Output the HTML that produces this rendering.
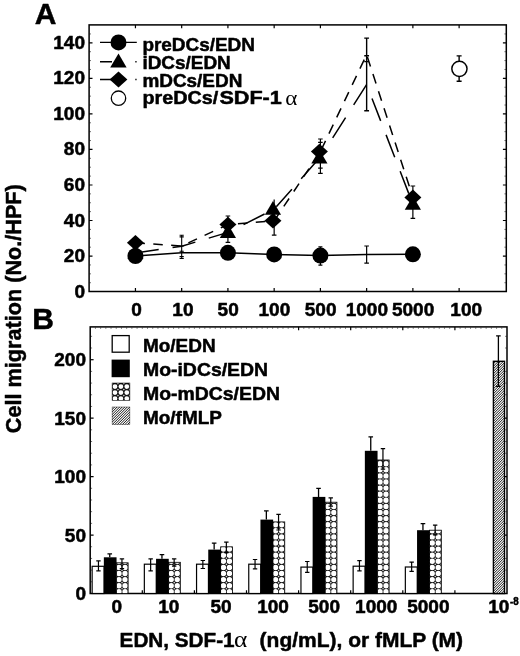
<!DOCTYPE html>
<html><head><meta charset="utf-8"><title>Figure</title>
<style>html,body{margin:0;padding:0;background:#fff;}svg{display:block;}</style>
</head><body>
<svg width="520" height="656" viewBox="0 0 520 656" font-family="'Liberation Sans', sans-serif" font-weight="bold" fill="#050505">
<defs>
<filter id="soft" x="0" y="0" width="520" height="656" filterUnits="userSpaceOnUse"><feGaussianBlur stdDeviation="0.38"/></filter>
</defs>
<rect width="520" height="656" fill="#fff"/>
<g filter="url(#soft)">
<g stroke="#050505" fill="none" stroke-width="1.5">
<rect x="89.10" y="24.90" width="417.20" height="266.60"/>
<path d="M89.10 256.06 h3.4 M506.30 256.06 h-3.4" stroke-width="1.2"/>
<path d="M89.10 220.52 h3.4 M506.30 220.52 h-3.4" stroke-width="1.2"/>
<path d="M89.10 184.98 h3.4 M506.30 184.98 h-3.4" stroke-width="1.2"/>
<path d="M89.10 149.44 h3.4 M506.30 149.44 h-3.4" stroke-width="1.2"/>
<path d="M89.10 113.90 h3.4 M506.30 113.90 h-3.4" stroke-width="1.2"/>
<path d="M89.10 78.36 h3.4 M506.30 78.36 h-3.4" stroke-width="1.2"/>
<path d="M89.10 42.82 h3.4 M506.30 42.82 h-3.4" stroke-width="1.2"/>
<path d="M89.50 282.72 h1.5 M505.90 282.72 h-1.5 M89.50 273.83 h1.5 M505.90 273.83 h-1.5 M89.50 264.95 h1.5 M505.90 264.95 h-1.5 M89.50 247.18 h1.5 M505.90 247.18 h-1.5 M89.50 238.29 h1.5 M505.90 238.29 h-1.5 M89.50 229.41 h1.5 M505.90 229.41 h-1.5 M89.50 211.64 h1.5 M505.90 211.64 h-1.5 M89.50 202.75 h1.5 M505.90 202.75 h-1.5 M89.50 193.87 h1.5 M505.90 193.87 h-1.5 M89.50 176.10 h1.5 M505.90 176.10 h-1.5 M89.50 167.21 h1.5 M505.90 167.21 h-1.5 M89.50 158.33 h1.5 M505.90 158.33 h-1.5 M89.50 140.56 h1.5 M505.90 140.56 h-1.5 M89.50 131.67 h1.5 M505.90 131.67 h-1.5 M89.50 122.79 h1.5 M505.90 122.79 h-1.5 M89.50 105.02 h1.5 M505.90 105.02 h-1.5 M89.50 96.13 h1.5 M505.90 96.13 h-1.5 M89.50 87.25 h1.5 M505.90 87.25 h-1.5 M89.50 69.48 h1.5 M505.90 69.48 h-1.5 M89.50 60.59 h1.5 M505.90 60.59 h-1.5 M89.50 51.71 h1.5 M505.90 51.71 h-1.5 M89.50 33.94 h1.5 M505.90 33.94 h-1.5" stroke-width="0.8" opacity="0.7"/>
<path d="M135.44 291.50 v-3.4 M135.44 24.90 v3.4 M181.68 291.50 v-3.4 M181.68 24.90 v3.4 M227.92 291.50 v-3.4 M227.92 24.90 v3.4 M274.16 291.50 v-3.4 M274.16 24.90 v3.4 M320.40 291.50 v-3.4 M320.40 24.90 v3.4 M366.64 291.50 v-3.4 M366.64 24.90 v3.4 M412.88 291.50 v-3.4 M412.88 24.90 v3.4 M459.12 291.50 v-3.4 M459.12 24.90 v3.4" stroke-width="1.2"/>
</g>
<g stroke="#050505" stroke-width="0.50" stroke-linejoin="round">
<text transform="translate(85.00 298.00) scale(1.045 1)" font-size="18.20" text-anchor="end" >0</text>
<text transform="translate(85.00 262.06) scale(1.045 1)" font-size="18.20" text-anchor="end" >20</text>
<text transform="translate(85.00 226.52) scale(1.045 1)" font-size="18.20" text-anchor="end" >40</text>
<text transform="translate(85.00 190.98) scale(1.045 1)" font-size="18.20" text-anchor="end" >60</text>
<text transform="translate(85.00 155.44) scale(1.045 1)" font-size="18.20" text-anchor="end" >80</text>
<text transform="translate(85.00 119.90) scale(1.045 1)" font-size="18.20" text-anchor="end" >100</text>
<text transform="translate(85.00 84.36) scale(1.045 1)" font-size="18.20" text-anchor="end" >120</text>
<text transform="translate(85.00 48.82) scale(1.045 1)" font-size="18.20" text-anchor="end" >140</text>
<text transform="translate(136.64 316.40) scale(1.045 1)" font-size="18.20" text-anchor="middle" >0</text>
<text transform="translate(182.88 316.40) scale(1.045 1)" font-size="18.20" text-anchor="middle" >10</text>
<text transform="translate(228.12 316.40) scale(1.045 1)" font-size="18.20" text-anchor="middle" >50</text>
<text transform="translate(274.36 316.40) scale(1.045 1)" font-size="18.20" text-anchor="middle" >100</text>
<text transform="translate(320.60 316.40) scale(1.045 1)" font-size="18.20" text-anchor="middle" >500</text>
<text transform="translate(366.84 316.40) scale(1.045 1)" font-size="18.20" text-anchor="middle" >1000</text>
<text transform="translate(413.08 316.40) scale(1.045 1)" font-size="18.20" text-anchor="middle" >5000</text>
<text transform="translate(466.20 316.40) scale(1.045 1)" font-size="18.20" text-anchor="middle" >100</text>
</g>
<g stroke="#050505" fill="none" stroke-width="1.5" stroke-linejoin="miter">
<polyline points="135.44,256.00 181.68,252.70 227.92,252.80 274.16,254.40 320.40,255.60 366.64,254.40 412.88,254.30"/>
<polyline points="135.44,253.00 181.68,246.20 227.92,232.40 274.16,209.20 320.40,157.00" stroke-dasharray="23.5 14"/>
<polyline points="320.40,157.00 366.64,84.60 412.88,204.20" stroke-dasharray="24 15" stroke-dashoffset="16.2"/>
<polyline points="135.44,242.80 181.68,246.00 227.92,224.50 274.16,220.80 320.40,151.60" stroke-dasharray="9.5 8.4"/>
<polyline points="320.40,151.60 366.64,54.60 412.88,197.40" stroke-dasharray="10 8" stroke-dashoffset="16.1"/>
</g>
<path d="M181.68 235.20 V258.50 M179.58 235.20 h4.20 M179.58 236.90 h4.20 M179.58 246.00 h4.20 M179.58 251.20 h4.20 M179.58 256.60 h4.20 M179.58 258.50 h4.20" stroke="#050505" stroke-width="1.10" fill="none"/>
<path d="M227.92 216.00 V242.40 M225.62 216.00 h4.60 M225.62 242.40 h4.60" stroke="#050505" stroke-width="1.20" fill="none"/>
<path d="M274.16 199.50 V235.20 M271.86 235.20 h4.60" stroke="#050505" stroke-width="1.20" fill="none"/>
<path d="M320.40 139.00 V173.40 M318.10 139.00 h4.60 M318.10 142.30 h4.60 M318.10 168.20 h4.60 M318.10 173.40 h4.60" stroke="#050505" stroke-width="1.20" fill="none"/>
<path d="M320.40 246.90 V265.20 M318.40 246.90 h4.00 M318.40 265.20 h4.00" stroke="#050505" stroke-width="1.20" fill="none"/>
<path d="M366.64 38.10 V110.80 M364.24 38.10 h4.80 M364.24 55.80 h4.80 M364.24 61.60 h4.80 M364.24 110.80 h4.80" stroke="#050505" stroke-width="1.40" fill="none"/>
<path d="M366.64 246.00 V263.10 M364.34 246.00 h4.60 M364.34 263.10 h4.60" stroke="#050505" stroke-width="1.20" fill="none"/>
<path d="M412.88 186.00 V218.40 M410.58 186.00 h4.60 M410.58 218.40 h4.60" stroke="#050505" stroke-width="1.20" fill="none"/>
<path d="M459.12 55.90 V81.30 M456.62 55.90 h5.00 M456.62 81.30 h5.00" stroke="#050505" stroke-width="1.40" fill="none"/>
<path d="M135.44 244.70 L143.54 258.60 L127.34 258.60 Z"/>
<path d="M135.44 235.00 L143.94 242.80 L135.44 250.60 L126.94 242.80 Z"/>
<circle cx="135.44" cy="256.00" r="8.00"/>
<path d="M227.92 224.10 L236.02 238.00 L219.82 238.00 Z"/>
<path d="M227.92 216.70 L236.42 224.50 L227.92 232.30 L219.42 224.50 Z"/>
<circle cx="227.92" cy="252.80" r="8.00"/>
<path d="M272.96 200.90 L281.06 214.80 L264.86 214.80 Z"/>
<path d="M272.96 213.00 L281.46 220.80 L272.96 228.60 L264.46 220.80 Z"/>
<circle cx="274.16" cy="254.40" r="8.00"/>
<path d="M319.40 149.70 L327.50 163.60 L311.30 163.60 Z"/>
<path d="M319.40 143.80 L327.90 151.60 L319.40 159.40 L310.90 151.60 Z"/>
<circle cx="320.40" cy="255.60" r="8.00"/>
<path d="M412.88 195.90 L420.98 209.80 L404.78 209.80 Z"/>
<path d="M412.88 189.60 L421.38 197.40 L412.88 205.20 L404.38 197.40 Z"/>
<circle cx="412.88" cy="254.30" r="8.00"/>
<circle cx="459.42" cy="68.8" r="7.6" fill="#fff" stroke="#050505" stroke-width="1.5"/>
<g stroke="#050505" stroke-width="1.4" fill="none">
<path d="M100 42.4 H136.8"/>
<path d="M100 61.7 H112 M135.3 61.7 h1.3"/>
<path d="M100 79.5 H112 M135.3 79.5 h1.3"/>
</g>
<circle cx="118.50" cy="42.40" r="8.00"/>
<path d="M118.50 53.4 L126.6 67.5 L110.2 67.5 Z"/>
<path d="M118.50 71.40 L127.40 79.40 L118.50 87.40 L109.60 79.40 Z"/>
<circle cx="118.50" cy="98.2" r="7.2" fill="#fff" stroke="#050505" stroke-width="1.3"/>
<g stroke="#050505" stroke-width="0.50" stroke-linejoin="round">
<text transform="translate(142.40 51.00) scale(1.030 1)" font-size="18.40" text-anchor="start" >preDCs/EDN</text>
<text transform="translate(142.40 68.90) scale(1.030 1)" font-size="18.40" text-anchor="start" >iDCs/EDN</text>
<text transform="translate(142.40 86.60) scale(1.030 1)" font-size="18.40" text-anchor="start" >mDCs/EDN</text>
<text transform="translate(142.40 104.30) scale(1.075 1)" font-size="18.40" text-anchor="start" >preDCs/</text>
<text transform="translate(219.40 104.30) scale(1.175 1)" font-size="18.40" text-anchor="start" >SDF-1</text>
<text transform="translate(285.2 105.2) scale(1.13 1)" font-family="'Liberation Serif', serif" font-size="20.5" font-weight="normal" stroke="none">α</text>
<text transform="translate(34.80 23.70) scale(1.000 1)" font-size="30.00" text-anchor="start" >A</text>
<text transform="translate(32.30 329.40) scale(1.000 1)" font-size="30.00" text-anchor="start" >B</text>
</g>
<text transform="translate(20.7 433.2) rotate(-90)" font-size="22.2" textLength="249" lengthAdjust="spacingAndGlyphs" stroke="#050505" stroke-width="0.50" stroke-linejoin="round">Cell migration (No./HPF)</text>
<g stroke="#050505" fill="none" stroke-width="1.5">
<rect x="90.20" y="326.90" width="416.80" height="266.60"/>
<path d="M90.20 535.05 h3.4 M507.00 535.05 h-3.4" stroke-width="1.2"/>
<path d="M90.20 476.60 h3.4 M507.00 476.60 h-3.4" stroke-width="1.2"/>
<path d="M90.20 418.15 h3.4 M507.00 418.15 h-3.4" stroke-width="1.2"/>
<path d="M90.20 359.70 h3.4" stroke-width="1.2"/>
<path d="M90.60 581.81 h1.5 M506.60 581.81 h-1.5 M90.60 570.12 h1.5 M506.60 570.12 h-1.5 M90.60 558.43 h1.5 M506.60 558.43 h-1.5 M90.60 546.74 h1.5 M506.60 546.74 h-1.5 M90.60 523.36 h1.5 M506.60 523.36 h-1.5 M90.60 511.67 h1.5 M506.60 511.67 h-1.5 M90.60 499.98 h1.5 M506.60 499.98 h-1.5 M90.60 488.29 h1.5 M506.60 488.29 h-1.5 M90.60 464.91 h1.5 M506.60 464.91 h-1.5 M90.60 453.22 h1.5 M506.60 453.22 h-1.5 M90.60 441.53 h1.5 M506.60 441.53 h-1.5 M90.60 429.84 h1.5 M506.60 429.84 h-1.5 M90.60 406.46 h1.5 M506.60 406.46 h-1.5 M90.60 394.77 h1.5 M506.60 394.77 h-1.5 M90.60 383.08 h1.5 M506.60 383.08 h-1.5 M90.60 371.39 h1.5 M506.60 371.39 h-1.5 M90.60 348.01 h1.5 M506.60 348.01 h-1.5 M90.60 336.32 h1.5 M506.60 336.32 h-1.5" stroke-width="0.8" opacity="0.7"/>
<path d="M142.30 593.50 v-3.2 M194.40 593.50 v-3.2 M246.50 593.50 v-3.2 M298.60 593.50 v-3.2 M298.60 326.90 v3.4 M350.70 593.50 v-3.2 M350.70 326.90 v3.4 M402.80 593.50 v-3.2 M402.80 326.90 v3.4 M454.90 593.50 v-3.2 M454.90 326.90 v3.4" stroke-width="1.2"/>
<path d="M95.41 327.40 v1.6 M100.62 327.40 v1.6 M105.83 327.40 v1.6 M111.04 327.40 v1.6 M116.25 327.40 v1.6 M121.46 327.40 v1.6 M126.67 327.40 v1.6 M131.88 327.40 v1.6 M137.09 327.40 v1.6 M142.30 327.40 v1.6 M147.51 327.40 v1.6 M152.72 327.40 v1.6 M157.93 327.40 v1.6 M163.14 327.40 v1.6 M168.35 327.40 v1.6 M173.56 327.40 v1.6 M178.77 327.40 v1.6 M183.98 327.40 v1.6 M189.19 327.40 v1.6 M194.40 327.40 v1.6 M199.61 327.40 v1.6 M204.82 327.40 v1.6 M210.03 327.40 v1.6 M215.24 327.40 v1.6 M220.45 327.40 v1.6 M225.66 327.40 v1.6 M230.87 327.40 v1.6 M236.08 327.40 v1.6 M241.29 327.40 v1.6 M246.50 327.40 v1.6 M251.71 327.40 v1.6 M256.92 327.40 v1.6 M262.13 327.40 v1.6 M267.34 327.40 v1.6 M272.55 327.40 v1.6 M277.76 327.40 v1.6 M282.97 327.40 v1.6 M288.18 327.40 v1.6 M293.39 327.40 v1.6 M303.81 327.40 v1.6 M309.02 327.40 v1.6 M314.23 327.40 v1.6 M319.44 327.40 v1.6 M324.65 327.40 v1.6 M329.86 327.40 v1.6 M335.07 327.40 v1.6 M340.28 327.40 v1.6 M345.49 327.40 v1.6 M355.91 327.40 v1.6 M361.12 327.40 v1.6 M366.33 327.40 v1.6 M371.54 327.40 v1.6 M376.75 327.40 v1.6 M381.96 327.40 v1.6 M387.17 327.40 v1.6 M392.38 327.40 v1.6 M397.59 327.40 v1.6 M408.01 327.40 v1.6 M413.22 327.40 v1.6 M418.43 327.40 v1.6 M423.64 327.40 v1.6 M428.85 327.40 v1.6 M434.06 327.40 v1.6 M439.27 327.40 v1.6 M444.48 327.40 v1.6 M449.69 327.40 v1.6 M460.11 327.40 v1.6 M465.32 327.40 v1.6 M470.53 327.40 v1.6 M475.74 327.40 v1.6 M480.95 327.40 v1.6 M486.16 327.40 v1.6 M491.37 327.40 v1.6 M496.58 327.40 v1.6 M501.79 327.40 v1.6" stroke="#050505" stroke-width="1.0" opacity="0.45"/>
</g>
<g stroke="#050505" stroke-width="0.50" stroke-linejoin="round">
<text transform="translate(86.00 599.80) scale(1.045 1)" font-size="18.20" text-anchor="end" >0</text>
<text transform="translate(86.00 541.55) scale(1.045 1)" font-size="18.20" text-anchor="end" >50</text>
<text transform="translate(86.00 483.10) scale(1.045 1)" font-size="18.20" text-anchor="end" >100</text>
<text transform="translate(86.00 424.65) scale(1.045 1)" font-size="18.20" text-anchor="end" >150</text>
<text transform="translate(86.00 366.20) scale(1.045 1)" font-size="18.20" text-anchor="end" >200</text>
<text transform="translate(116.75 612.90) scale(1.045 1)" font-size="18.20" text-anchor="middle" >0</text>
<text transform="translate(168.85 612.90) scale(1.045 1)" font-size="18.20" text-anchor="middle" >10</text>
<text transform="translate(220.95 612.90) scale(1.045 1)" font-size="18.20" text-anchor="middle" >50</text>
<text transform="translate(273.05 612.90) scale(1.045 1)" font-size="18.20" text-anchor="middle" >100</text>
<text transform="translate(324.15 612.90) scale(1.045 1)" font-size="18.20" text-anchor="middle" >500</text>
<text transform="translate(376.25 612.90) scale(1.045 1)" font-size="18.20" text-anchor="middle" >1000</text>
<text transform="translate(428.35 612.90) scale(1.045 1)" font-size="18.20" text-anchor="middle" >5000</text>
<text transform="translate(488.30 612.90) scale(1.045 1)" font-size="18.20" text-anchor="start" >10</text>
<text transform="translate(509.90 605.00) scale(0.900 1)" font-size="10.80" text-anchor="start" >-8</text>
</g>
<rect x="92.15" y="566.30" width="11.90" height="27.20" fill="#fff" stroke="#050505" stroke-width="1.2"/>
<clipPath id="cb0"><rect x="116.25" y="562.80" width="11.90" height="30.70"/></clipPath>
<g clip-path="url(#cb0)"><rect x="116.25" y="562.80" width="11.90" height="30.70" fill="#141414"/><path d="M110.25 591.80a2.70 2.70 0 1 0 5.40 0a2.70 2.70 0 1 0 -5.40 0zM116.30 591.80a2.70 2.70 0 1 0 5.40 0a2.70 2.70 0 1 0 -5.40 0zM122.35 591.80a2.70 2.70 0 1 0 5.40 0a2.70 2.70 0 1 0 -5.40 0zM110.25 585.70a2.70 2.70 0 1 0 5.40 0a2.70 2.70 0 1 0 -5.40 0zM116.30 585.70a2.70 2.70 0 1 0 5.40 0a2.70 2.70 0 1 0 -5.40 0zM122.35 585.70a2.70 2.70 0 1 0 5.40 0a2.70 2.70 0 1 0 -5.40 0zM110.25 579.60a2.70 2.70 0 1 0 5.40 0a2.70 2.70 0 1 0 -5.40 0zM116.30 579.60a2.70 2.70 0 1 0 5.40 0a2.70 2.70 0 1 0 -5.40 0zM122.35 579.60a2.70 2.70 0 1 0 5.40 0a2.70 2.70 0 1 0 -5.40 0zM110.25 573.50a2.70 2.70 0 1 0 5.40 0a2.70 2.70 0 1 0 -5.40 0zM116.30 573.50a2.70 2.70 0 1 0 5.40 0a2.70 2.70 0 1 0 -5.40 0zM122.35 573.50a2.70 2.70 0 1 0 5.40 0a2.70 2.70 0 1 0 -5.40 0zM110.25 567.40a2.70 2.70 0 1 0 5.40 0a2.70 2.70 0 1 0 -5.40 0zM116.30 567.40a2.70 2.70 0 1 0 5.40 0a2.70 2.70 0 1 0 -5.40 0zM122.35 567.40a2.70 2.70 0 1 0 5.40 0a2.70 2.70 0 1 0 -5.40 0zM110.25 561.30a2.70 2.70 0 1 0 5.40 0a2.70 2.70 0 1 0 -5.40 0zM116.30 561.30a2.70 2.70 0 1 0 5.40 0a2.70 2.70 0 1 0 -5.40 0zM122.35 561.30a2.70 2.70 0 1 0 5.40 0a2.70 2.70 0 1 0 -5.40 0z" fill="#fff"/><path d="M115.17 588.75a0.8 0.8 0 1 0 1.6 0a0.8 0.8 0 1 0 -1.6 0zM121.23 588.75a0.8 0.8 0 1 0 1.6 0a0.8 0.8 0 1 0 -1.6 0zM127.27 588.75a0.8 0.8 0 1 0 1.6 0a0.8 0.8 0 1 0 -1.6 0zM115.17 582.65a0.8 0.8 0 1 0 1.6 0a0.8 0.8 0 1 0 -1.6 0zM121.23 582.65a0.8 0.8 0 1 0 1.6 0a0.8 0.8 0 1 0 -1.6 0zM127.27 582.65a0.8 0.8 0 1 0 1.6 0a0.8 0.8 0 1 0 -1.6 0zM115.17 576.55a0.8 0.8 0 1 0 1.6 0a0.8 0.8 0 1 0 -1.6 0zM121.23 576.55a0.8 0.8 0 1 0 1.6 0a0.8 0.8 0 1 0 -1.6 0zM127.27 576.55a0.8 0.8 0 1 0 1.6 0a0.8 0.8 0 1 0 -1.6 0zM115.17 570.45a0.8 0.8 0 1 0 1.6 0a0.8 0.8 0 1 0 -1.6 0zM121.23 570.45a0.8 0.8 0 1 0 1.6 0a0.8 0.8 0 1 0 -1.6 0zM127.27 570.45a0.8 0.8 0 1 0 1.6 0a0.8 0.8 0 1 0 -1.6 0zM115.17 564.35a0.8 0.8 0 1 0 1.6 0a0.8 0.8 0 1 0 -1.6 0zM121.23 564.35a0.8 0.8 0 1 0 1.6 0a0.8 0.8 0 1 0 -1.6 0zM127.27 564.35a0.8 0.8 0 1 0 1.6 0a0.8 0.8 0 1 0 -1.6 0zM115.17 558.25a0.8 0.8 0 1 0 1.6 0a0.8 0.8 0 1 0 -1.6 0zM121.23 558.25a0.8 0.8 0 1 0 1.6 0a0.8 0.8 0 1 0 -1.6 0zM127.27 558.25a0.8 0.8 0 1 0 1.6 0a0.8 0.8 0 1 0 -1.6 0z" fill="#dcdcdc"/></g>
<rect x="116.25" y="562.80" width="11.90" height="30.70" fill="none" stroke="#050505" stroke-width="0.80"/>
<rect x="103.85" y="557.30" width="12.70" height="36.20" fill="#050505"/>
<path d="M98.45 560.90 V570.80 M96.25 560.90 h4.40 M96.25 570.80 h4.40" stroke="#050505" stroke-width="1.20" fill="none"/>
<path d="M109.75 553.80 V557.30 M107.45 553.80 h4.60" stroke="#050505" stroke-width="1.30" fill="none"/>
<path d="M121.95 558.90 V568.60 M119.75 558.90 h4.40 M119.75 568.60 h4.40" stroke="#050505" stroke-width="1.20" fill="none"/>
<rect x="144.35" y="564.20" width="11.90" height="29.30" fill="#fff" stroke="#050505" stroke-width="1.2"/>
<clipPath id="cb1"><rect x="168.45" y="562.30" width="11.90" height="31.20"/></clipPath>
<g clip-path="url(#cb1)"><rect x="168.45" y="562.30" width="11.90" height="31.20" fill="#141414"/><path d="M162.45 591.80a2.70 2.70 0 1 0 5.40 0a2.70 2.70 0 1 0 -5.40 0zM168.50 591.80a2.70 2.70 0 1 0 5.40 0a2.70 2.70 0 1 0 -5.40 0zM174.55 591.80a2.70 2.70 0 1 0 5.40 0a2.70 2.70 0 1 0 -5.40 0zM162.45 585.70a2.70 2.70 0 1 0 5.40 0a2.70 2.70 0 1 0 -5.40 0zM168.50 585.70a2.70 2.70 0 1 0 5.40 0a2.70 2.70 0 1 0 -5.40 0zM174.55 585.70a2.70 2.70 0 1 0 5.40 0a2.70 2.70 0 1 0 -5.40 0zM162.45 579.60a2.70 2.70 0 1 0 5.40 0a2.70 2.70 0 1 0 -5.40 0zM168.50 579.60a2.70 2.70 0 1 0 5.40 0a2.70 2.70 0 1 0 -5.40 0zM174.55 579.60a2.70 2.70 0 1 0 5.40 0a2.70 2.70 0 1 0 -5.40 0zM162.45 573.50a2.70 2.70 0 1 0 5.40 0a2.70 2.70 0 1 0 -5.40 0zM168.50 573.50a2.70 2.70 0 1 0 5.40 0a2.70 2.70 0 1 0 -5.40 0zM174.55 573.50a2.70 2.70 0 1 0 5.40 0a2.70 2.70 0 1 0 -5.40 0zM162.45 567.40a2.70 2.70 0 1 0 5.40 0a2.70 2.70 0 1 0 -5.40 0zM168.50 567.40a2.70 2.70 0 1 0 5.40 0a2.70 2.70 0 1 0 -5.40 0zM174.55 567.40a2.70 2.70 0 1 0 5.40 0a2.70 2.70 0 1 0 -5.40 0zM162.45 561.30a2.70 2.70 0 1 0 5.40 0a2.70 2.70 0 1 0 -5.40 0zM168.50 561.30a2.70 2.70 0 1 0 5.40 0a2.70 2.70 0 1 0 -5.40 0zM174.55 561.30a2.70 2.70 0 1 0 5.40 0a2.70 2.70 0 1 0 -5.40 0z" fill="#fff"/><path d="M167.38 588.75a0.8 0.8 0 1 0 1.6 0a0.8 0.8 0 1 0 -1.6 0zM173.43 588.75a0.8 0.8 0 1 0 1.6 0a0.8 0.8 0 1 0 -1.6 0zM179.47 588.75a0.8 0.8 0 1 0 1.6 0a0.8 0.8 0 1 0 -1.6 0zM167.38 582.65a0.8 0.8 0 1 0 1.6 0a0.8 0.8 0 1 0 -1.6 0zM173.43 582.65a0.8 0.8 0 1 0 1.6 0a0.8 0.8 0 1 0 -1.6 0zM179.47 582.65a0.8 0.8 0 1 0 1.6 0a0.8 0.8 0 1 0 -1.6 0zM167.38 576.55a0.8 0.8 0 1 0 1.6 0a0.8 0.8 0 1 0 -1.6 0zM173.43 576.55a0.8 0.8 0 1 0 1.6 0a0.8 0.8 0 1 0 -1.6 0zM179.47 576.55a0.8 0.8 0 1 0 1.6 0a0.8 0.8 0 1 0 -1.6 0zM167.38 570.45a0.8 0.8 0 1 0 1.6 0a0.8 0.8 0 1 0 -1.6 0zM173.43 570.45a0.8 0.8 0 1 0 1.6 0a0.8 0.8 0 1 0 -1.6 0zM179.47 570.45a0.8 0.8 0 1 0 1.6 0a0.8 0.8 0 1 0 -1.6 0zM167.38 564.35a0.8 0.8 0 1 0 1.6 0a0.8 0.8 0 1 0 -1.6 0zM173.43 564.35a0.8 0.8 0 1 0 1.6 0a0.8 0.8 0 1 0 -1.6 0zM179.47 564.35a0.8 0.8 0 1 0 1.6 0a0.8 0.8 0 1 0 -1.6 0zM167.38 558.25a0.8 0.8 0 1 0 1.6 0a0.8 0.8 0 1 0 -1.6 0zM173.43 558.25a0.8 0.8 0 1 0 1.6 0a0.8 0.8 0 1 0 -1.6 0zM179.47 558.25a0.8 0.8 0 1 0 1.6 0a0.8 0.8 0 1 0 -1.6 0z" fill="#dcdcdc"/></g>
<rect x="168.45" y="562.30" width="11.90" height="31.20" fill="none" stroke="#050505" stroke-width="0.80"/>
<rect x="156.05" y="558.80" width="12.70" height="34.70" fill="#050505"/>
<path d="M150.65 558.80 V570.80 M148.45 558.80 h4.40 M148.45 570.80 h4.40" stroke="#050505" stroke-width="1.20" fill="none"/>
<path d="M161.95 554.60 V558.80 M159.65 554.60 h4.60" stroke="#050505" stroke-width="1.30" fill="none"/>
<path d="M174.15 558.80 V566.20 M171.95 558.80 h4.40 M171.95 566.20 h4.40" stroke="#050505" stroke-width="1.20" fill="none"/>
<rect x="196.55" y="564.20" width="11.90" height="29.30" fill="#fff" stroke="#050505" stroke-width="1.2"/>
<clipPath id="cb2"><rect x="220.65" y="546.80" width="11.90" height="46.70"/></clipPath>
<g clip-path="url(#cb2)"><rect x="220.65" y="546.80" width="11.90" height="46.70" fill="#141414"/><path d="M214.65 591.80a2.70 2.70 0 1 0 5.40 0a2.70 2.70 0 1 0 -5.40 0zM220.70 591.80a2.70 2.70 0 1 0 5.40 0a2.70 2.70 0 1 0 -5.40 0zM226.75 591.80a2.70 2.70 0 1 0 5.40 0a2.70 2.70 0 1 0 -5.40 0zM214.65 585.70a2.70 2.70 0 1 0 5.40 0a2.70 2.70 0 1 0 -5.40 0zM220.70 585.70a2.70 2.70 0 1 0 5.40 0a2.70 2.70 0 1 0 -5.40 0zM226.75 585.70a2.70 2.70 0 1 0 5.40 0a2.70 2.70 0 1 0 -5.40 0zM214.65 579.60a2.70 2.70 0 1 0 5.40 0a2.70 2.70 0 1 0 -5.40 0zM220.70 579.60a2.70 2.70 0 1 0 5.40 0a2.70 2.70 0 1 0 -5.40 0zM226.75 579.60a2.70 2.70 0 1 0 5.40 0a2.70 2.70 0 1 0 -5.40 0zM214.65 573.50a2.70 2.70 0 1 0 5.40 0a2.70 2.70 0 1 0 -5.40 0zM220.70 573.50a2.70 2.70 0 1 0 5.40 0a2.70 2.70 0 1 0 -5.40 0zM226.75 573.50a2.70 2.70 0 1 0 5.40 0a2.70 2.70 0 1 0 -5.40 0zM214.65 567.40a2.70 2.70 0 1 0 5.40 0a2.70 2.70 0 1 0 -5.40 0zM220.70 567.40a2.70 2.70 0 1 0 5.40 0a2.70 2.70 0 1 0 -5.40 0zM226.75 567.40a2.70 2.70 0 1 0 5.40 0a2.70 2.70 0 1 0 -5.40 0zM214.65 561.30a2.70 2.70 0 1 0 5.40 0a2.70 2.70 0 1 0 -5.40 0zM220.70 561.30a2.70 2.70 0 1 0 5.40 0a2.70 2.70 0 1 0 -5.40 0zM226.75 561.30a2.70 2.70 0 1 0 5.40 0a2.70 2.70 0 1 0 -5.40 0zM214.65 555.20a2.70 2.70 0 1 0 5.40 0a2.70 2.70 0 1 0 -5.40 0zM220.70 555.20a2.70 2.70 0 1 0 5.40 0a2.70 2.70 0 1 0 -5.40 0zM226.75 555.20a2.70 2.70 0 1 0 5.40 0a2.70 2.70 0 1 0 -5.40 0zM214.65 549.10a2.70 2.70 0 1 0 5.40 0a2.70 2.70 0 1 0 -5.40 0zM220.70 549.10a2.70 2.70 0 1 0 5.40 0a2.70 2.70 0 1 0 -5.40 0zM226.75 549.10a2.70 2.70 0 1 0 5.40 0a2.70 2.70 0 1 0 -5.40 0z" fill="#fff"/><path d="M219.57 588.75a0.8 0.8 0 1 0 1.6 0a0.8 0.8 0 1 0 -1.6 0zM225.62 588.75a0.8 0.8 0 1 0 1.6 0a0.8 0.8 0 1 0 -1.6 0zM231.67 588.75a0.8 0.8 0 1 0 1.6 0a0.8 0.8 0 1 0 -1.6 0zM219.57 582.65a0.8 0.8 0 1 0 1.6 0a0.8 0.8 0 1 0 -1.6 0zM225.62 582.65a0.8 0.8 0 1 0 1.6 0a0.8 0.8 0 1 0 -1.6 0zM231.67 582.65a0.8 0.8 0 1 0 1.6 0a0.8 0.8 0 1 0 -1.6 0zM219.57 576.55a0.8 0.8 0 1 0 1.6 0a0.8 0.8 0 1 0 -1.6 0zM225.62 576.55a0.8 0.8 0 1 0 1.6 0a0.8 0.8 0 1 0 -1.6 0zM231.67 576.55a0.8 0.8 0 1 0 1.6 0a0.8 0.8 0 1 0 -1.6 0zM219.57 570.45a0.8 0.8 0 1 0 1.6 0a0.8 0.8 0 1 0 -1.6 0zM225.62 570.45a0.8 0.8 0 1 0 1.6 0a0.8 0.8 0 1 0 -1.6 0zM231.67 570.45a0.8 0.8 0 1 0 1.6 0a0.8 0.8 0 1 0 -1.6 0zM219.57 564.35a0.8 0.8 0 1 0 1.6 0a0.8 0.8 0 1 0 -1.6 0zM225.62 564.35a0.8 0.8 0 1 0 1.6 0a0.8 0.8 0 1 0 -1.6 0zM231.67 564.35a0.8 0.8 0 1 0 1.6 0a0.8 0.8 0 1 0 -1.6 0zM219.57 558.25a0.8 0.8 0 1 0 1.6 0a0.8 0.8 0 1 0 -1.6 0zM225.62 558.25a0.8 0.8 0 1 0 1.6 0a0.8 0.8 0 1 0 -1.6 0zM231.67 558.25a0.8 0.8 0 1 0 1.6 0a0.8 0.8 0 1 0 -1.6 0zM219.57 552.15a0.8 0.8 0 1 0 1.6 0a0.8 0.8 0 1 0 -1.6 0zM225.62 552.15a0.8 0.8 0 1 0 1.6 0a0.8 0.8 0 1 0 -1.6 0zM231.67 552.15a0.8 0.8 0 1 0 1.6 0a0.8 0.8 0 1 0 -1.6 0zM219.57 546.05a0.8 0.8 0 1 0 1.6 0a0.8 0.8 0 1 0 -1.6 0zM225.62 546.05a0.8 0.8 0 1 0 1.6 0a0.8 0.8 0 1 0 -1.6 0zM231.67 546.05a0.8 0.8 0 1 0 1.6 0a0.8 0.8 0 1 0 -1.6 0z" fill="#dcdcdc"/></g>
<rect x="220.65" y="546.80" width="11.90" height="46.70" fill="none" stroke="#050505" stroke-width="0.80"/>
<rect x="208.25" y="549.60" width="12.70" height="43.90" fill="#050505"/>
<path d="M202.85 560.50 V568.50 M200.65 560.50 h4.40 M200.65 568.50 h4.40" stroke="#050505" stroke-width="1.20" fill="none"/>
<path d="M214.15 543.20 V549.60 M211.85 543.20 h4.60" stroke="#050505" stroke-width="1.30" fill="none"/>
<path d="M226.35 542.20 V552.60 M224.15 542.20 h4.40 M224.15 552.60 h4.40" stroke="#050505" stroke-width="1.20" fill="none"/>
<rect x="248.75" y="564.20" width="11.90" height="29.30" fill="#fff" stroke="#050505" stroke-width="1.2"/>
<clipPath id="cb3"><rect x="272.85" y="521.90" width="11.90" height="71.60"/></clipPath>
<g clip-path="url(#cb3)"><rect x="272.85" y="521.90" width="11.90" height="71.60" fill="#141414"/><path d="M266.85 591.80a2.70 2.70 0 1 0 5.40 0a2.70 2.70 0 1 0 -5.40 0zM272.90 591.80a2.70 2.70 0 1 0 5.40 0a2.70 2.70 0 1 0 -5.40 0zM278.95 591.80a2.70 2.70 0 1 0 5.40 0a2.70 2.70 0 1 0 -5.40 0zM266.85 585.70a2.70 2.70 0 1 0 5.40 0a2.70 2.70 0 1 0 -5.40 0zM272.90 585.70a2.70 2.70 0 1 0 5.40 0a2.70 2.70 0 1 0 -5.40 0zM278.95 585.70a2.70 2.70 0 1 0 5.40 0a2.70 2.70 0 1 0 -5.40 0zM266.85 579.60a2.70 2.70 0 1 0 5.40 0a2.70 2.70 0 1 0 -5.40 0zM272.90 579.60a2.70 2.70 0 1 0 5.40 0a2.70 2.70 0 1 0 -5.40 0zM278.95 579.60a2.70 2.70 0 1 0 5.40 0a2.70 2.70 0 1 0 -5.40 0zM266.85 573.50a2.70 2.70 0 1 0 5.40 0a2.70 2.70 0 1 0 -5.40 0zM272.90 573.50a2.70 2.70 0 1 0 5.40 0a2.70 2.70 0 1 0 -5.40 0zM278.95 573.50a2.70 2.70 0 1 0 5.40 0a2.70 2.70 0 1 0 -5.40 0zM266.85 567.40a2.70 2.70 0 1 0 5.40 0a2.70 2.70 0 1 0 -5.40 0zM272.90 567.40a2.70 2.70 0 1 0 5.40 0a2.70 2.70 0 1 0 -5.40 0zM278.95 567.40a2.70 2.70 0 1 0 5.40 0a2.70 2.70 0 1 0 -5.40 0zM266.85 561.30a2.70 2.70 0 1 0 5.40 0a2.70 2.70 0 1 0 -5.40 0zM272.90 561.30a2.70 2.70 0 1 0 5.40 0a2.70 2.70 0 1 0 -5.40 0zM278.95 561.30a2.70 2.70 0 1 0 5.40 0a2.70 2.70 0 1 0 -5.40 0zM266.85 555.20a2.70 2.70 0 1 0 5.40 0a2.70 2.70 0 1 0 -5.40 0zM272.90 555.20a2.70 2.70 0 1 0 5.40 0a2.70 2.70 0 1 0 -5.40 0zM278.95 555.20a2.70 2.70 0 1 0 5.40 0a2.70 2.70 0 1 0 -5.40 0zM266.85 549.10a2.70 2.70 0 1 0 5.40 0a2.70 2.70 0 1 0 -5.40 0zM272.90 549.10a2.70 2.70 0 1 0 5.40 0a2.70 2.70 0 1 0 -5.40 0zM278.95 549.10a2.70 2.70 0 1 0 5.40 0a2.70 2.70 0 1 0 -5.40 0zM266.85 543.00a2.70 2.70 0 1 0 5.40 0a2.70 2.70 0 1 0 -5.40 0zM272.90 543.00a2.70 2.70 0 1 0 5.40 0a2.70 2.70 0 1 0 -5.40 0zM278.95 543.00a2.70 2.70 0 1 0 5.40 0a2.70 2.70 0 1 0 -5.40 0zM266.85 536.90a2.70 2.70 0 1 0 5.40 0a2.70 2.70 0 1 0 -5.40 0zM272.90 536.90a2.70 2.70 0 1 0 5.40 0a2.70 2.70 0 1 0 -5.40 0zM278.95 536.90a2.70 2.70 0 1 0 5.40 0a2.70 2.70 0 1 0 -5.40 0zM266.85 530.80a2.70 2.70 0 1 0 5.40 0a2.70 2.70 0 1 0 -5.40 0zM272.90 530.80a2.70 2.70 0 1 0 5.40 0a2.70 2.70 0 1 0 -5.40 0zM278.95 530.80a2.70 2.70 0 1 0 5.40 0a2.70 2.70 0 1 0 -5.40 0zM266.85 524.70a2.70 2.70 0 1 0 5.40 0a2.70 2.70 0 1 0 -5.40 0zM272.90 524.70a2.70 2.70 0 1 0 5.40 0a2.70 2.70 0 1 0 -5.40 0zM278.95 524.70a2.70 2.70 0 1 0 5.40 0a2.70 2.70 0 1 0 -5.40 0zM266.85 518.60a2.70 2.70 0 1 0 5.40 0a2.70 2.70 0 1 0 -5.40 0zM272.90 518.60a2.70 2.70 0 1 0 5.40 0a2.70 2.70 0 1 0 -5.40 0zM278.95 518.60a2.70 2.70 0 1 0 5.40 0a2.70 2.70 0 1 0 -5.40 0z" fill="#fff"/><path d="M271.78 588.75a0.8 0.8 0 1 0 1.6 0a0.8 0.8 0 1 0 -1.6 0zM277.82 588.75a0.8 0.8 0 1 0 1.6 0a0.8 0.8 0 1 0 -1.6 0zM283.88 588.75a0.8 0.8 0 1 0 1.6 0a0.8 0.8 0 1 0 -1.6 0zM271.78 582.65a0.8 0.8 0 1 0 1.6 0a0.8 0.8 0 1 0 -1.6 0zM277.82 582.65a0.8 0.8 0 1 0 1.6 0a0.8 0.8 0 1 0 -1.6 0zM283.88 582.65a0.8 0.8 0 1 0 1.6 0a0.8 0.8 0 1 0 -1.6 0zM271.78 576.55a0.8 0.8 0 1 0 1.6 0a0.8 0.8 0 1 0 -1.6 0zM277.82 576.55a0.8 0.8 0 1 0 1.6 0a0.8 0.8 0 1 0 -1.6 0zM283.88 576.55a0.8 0.8 0 1 0 1.6 0a0.8 0.8 0 1 0 -1.6 0zM271.78 570.45a0.8 0.8 0 1 0 1.6 0a0.8 0.8 0 1 0 -1.6 0zM277.82 570.45a0.8 0.8 0 1 0 1.6 0a0.8 0.8 0 1 0 -1.6 0zM283.88 570.45a0.8 0.8 0 1 0 1.6 0a0.8 0.8 0 1 0 -1.6 0zM271.78 564.35a0.8 0.8 0 1 0 1.6 0a0.8 0.8 0 1 0 -1.6 0zM277.82 564.35a0.8 0.8 0 1 0 1.6 0a0.8 0.8 0 1 0 -1.6 0zM283.88 564.35a0.8 0.8 0 1 0 1.6 0a0.8 0.8 0 1 0 -1.6 0zM271.78 558.25a0.8 0.8 0 1 0 1.6 0a0.8 0.8 0 1 0 -1.6 0zM277.82 558.25a0.8 0.8 0 1 0 1.6 0a0.8 0.8 0 1 0 -1.6 0zM283.88 558.25a0.8 0.8 0 1 0 1.6 0a0.8 0.8 0 1 0 -1.6 0zM271.78 552.15a0.8 0.8 0 1 0 1.6 0a0.8 0.8 0 1 0 -1.6 0zM277.82 552.15a0.8 0.8 0 1 0 1.6 0a0.8 0.8 0 1 0 -1.6 0zM283.88 552.15a0.8 0.8 0 1 0 1.6 0a0.8 0.8 0 1 0 -1.6 0zM271.78 546.05a0.8 0.8 0 1 0 1.6 0a0.8 0.8 0 1 0 -1.6 0zM277.82 546.05a0.8 0.8 0 1 0 1.6 0a0.8 0.8 0 1 0 -1.6 0zM283.88 546.05a0.8 0.8 0 1 0 1.6 0a0.8 0.8 0 1 0 -1.6 0zM271.78 539.95a0.8 0.8 0 1 0 1.6 0a0.8 0.8 0 1 0 -1.6 0zM277.82 539.95a0.8 0.8 0 1 0 1.6 0a0.8 0.8 0 1 0 -1.6 0zM283.88 539.95a0.8 0.8 0 1 0 1.6 0a0.8 0.8 0 1 0 -1.6 0zM271.78 533.85a0.8 0.8 0 1 0 1.6 0a0.8 0.8 0 1 0 -1.6 0zM277.82 533.85a0.8 0.8 0 1 0 1.6 0a0.8 0.8 0 1 0 -1.6 0zM283.88 533.85a0.8 0.8 0 1 0 1.6 0a0.8 0.8 0 1 0 -1.6 0zM271.78 527.75a0.8 0.8 0 1 0 1.6 0a0.8 0.8 0 1 0 -1.6 0zM277.82 527.75a0.8 0.8 0 1 0 1.6 0a0.8 0.8 0 1 0 -1.6 0zM283.88 527.75a0.8 0.8 0 1 0 1.6 0a0.8 0.8 0 1 0 -1.6 0zM271.78 521.65a0.8 0.8 0 1 0 1.6 0a0.8 0.8 0 1 0 -1.6 0zM277.82 521.65a0.8 0.8 0 1 0 1.6 0a0.8 0.8 0 1 0 -1.6 0zM283.88 521.65a0.8 0.8 0 1 0 1.6 0a0.8 0.8 0 1 0 -1.6 0zM271.78 515.55a0.8 0.8 0 1 0 1.6 0a0.8 0.8 0 1 0 -1.6 0zM277.82 515.55a0.8 0.8 0 1 0 1.6 0a0.8 0.8 0 1 0 -1.6 0zM283.88 515.55a0.8 0.8 0 1 0 1.6 0a0.8 0.8 0 1 0 -1.6 0z" fill="#dcdcdc"/></g>
<rect x="272.85" y="521.90" width="11.90" height="71.60" fill="none" stroke="#050505" stroke-width="0.80"/>
<rect x="260.45" y="519.60" width="12.70" height="73.90" fill="#050505"/>
<path d="M255.05 559.50 V568.80 M252.85 559.50 h4.40 M252.85 568.80 h4.40" stroke="#050505" stroke-width="1.20" fill="none"/>
<path d="M266.35 510.80 V519.60 M264.05 510.80 h4.60" stroke="#050505" stroke-width="1.30" fill="none"/>
<path d="M278.55 514.30 V530.00 M276.35 514.30 h4.40 M276.35 530.00 h4.40" stroke="#050505" stroke-width="1.20" fill="none"/>
<rect x="300.95" y="567.10" width="11.90" height="26.40" fill="#fff" stroke="#050505" stroke-width="1.2"/>
<clipPath id="cb4"><rect x="325.05" y="502.20" width="11.90" height="91.30"/></clipPath>
<g clip-path="url(#cb4)"><rect x="325.05" y="502.20" width="11.90" height="91.30" fill="#141414"/><path d="M319.05 591.80a2.70 2.70 0 1 0 5.40 0a2.70 2.70 0 1 0 -5.40 0zM325.10 591.80a2.70 2.70 0 1 0 5.40 0a2.70 2.70 0 1 0 -5.40 0zM331.15 591.80a2.70 2.70 0 1 0 5.40 0a2.70 2.70 0 1 0 -5.40 0zM319.05 585.70a2.70 2.70 0 1 0 5.40 0a2.70 2.70 0 1 0 -5.40 0zM325.10 585.70a2.70 2.70 0 1 0 5.40 0a2.70 2.70 0 1 0 -5.40 0zM331.15 585.70a2.70 2.70 0 1 0 5.40 0a2.70 2.70 0 1 0 -5.40 0zM319.05 579.60a2.70 2.70 0 1 0 5.40 0a2.70 2.70 0 1 0 -5.40 0zM325.10 579.60a2.70 2.70 0 1 0 5.40 0a2.70 2.70 0 1 0 -5.40 0zM331.15 579.60a2.70 2.70 0 1 0 5.40 0a2.70 2.70 0 1 0 -5.40 0zM319.05 573.50a2.70 2.70 0 1 0 5.40 0a2.70 2.70 0 1 0 -5.40 0zM325.10 573.50a2.70 2.70 0 1 0 5.40 0a2.70 2.70 0 1 0 -5.40 0zM331.15 573.50a2.70 2.70 0 1 0 5.40 0a2.70 2.70 0 1 0 -5.40 0zM319.05 567.40a2.70 2.70 0 1 0 5.40 0a2.70 2.70 0 1 0 -5.40 0zM325.10 567.40a2.70 2.70 0 1 0 5.40 0a2.70 2.70 0 1 0 -5.40 0zM331.15 567.40a2.70 2.70 0 1 0 5.40 0a2.70 2.70 0 1 0 -5.40 0zM319.05 561.30a2.70 2.70 0 1 0 5.40 0a2.70 2.70 0 1 0 -5.40 0zM325.10 561.30a2.70 2.70 0 1 0 5.40 0a2.70 2.70 0 1 0 -5.40 0zM331.15 561.30a2.70 2.70 0 1 0 5.40 0a2.70 2.70 0 1 0 -5.40 0zM319.05 555.20a2.70 2.70 0 1 0 5.40 0a2.70 2.70 0 1 0 -5.40 0zM325.10 555.20a2.70 2.70 0 1 0 5.40 0a2.70 2.70 0 1 0 -5.40 0zM331.15 555.20a2.70 2.70 0 1 0 5.40 0a2.70 2.70 0 1 0 -5.40 0zM319.05 549.10a2.70 2.70 0 1 0 5.40 0a2.70 2.70 0 1 0 -5.40 0zM325.10 549.10a2.70 2.70 0 1 0 5.40 0a2.70 2.70 0 1 0 -5.40 0zM331.15 549.10a2.70 2.70 0 1 0 5.40 0a2.70 2.70 0 1 0 -5.40 0zM319.05 543.00a2.70 2.70 0 1 0 5.40 0a2.70 2.70 0 1 0 -5.40 0zM325.10 543.00a2.70 2.70 0 1 0 5.40 0a2.70 2.70 0 1 0 -5.40 0zM331.15 543.00a2.70 2.70 0 1 0 5.40 0a2.70 2.70 0 1 0 -5.40 0zM319.05 536.90a2.70 2.70 0 1 0 5.40 0a2.70 2.70 0 1 0 -5.40 0zM325.10 536.90a2.70 2.70 0 1 0 5.40 0a2.70 2.70 0 1 0 -5.40 0zM331.15 536.90a2.70 2.70 0 1 0 5.40 0a2.70 2.70 0 1 0 -5.40 0zM319.05 530.80a2.70 2.70 0 1 0 5.40 0a2.70 2.70 0 1 0 -5.40 0zM325.10 530.80a2.70 2.70 0 1 0 5.40 0a2.70 2.70 0 1 0 -5.40 0zM331.15 530.80a2.70 2.70 0 1 0 5.40 0a2.70 2.70 0 1 0 -5.40 0zM319.05 524.70a2.70 2.70 0 1 0 5.40 0a2.70 2.70 0 1 0 -5.40 0zM325.10 524.70a2.70 2.70 0 1 0 5.40 0a2.70 2.70 0 1 0 -5.40 0zM331.15 524.70a2.70 2.70 0 1 0 5.40 0a2.70 2.70 0 1 0 -5.40 0zM319.05 518.60a2.70 2.70 0 1 0 5.40 0a2.70 2.70 0 1 0 -5.40 0zM325.10 518.60a2.70 2.70 0 1 0 5.40 0a2.70 2.70 0 1 0 -5.40 0zM331.15 518.60a2.70 2.70 0 1 0 5.40 0a2.70 2.70 0 1 0 -5.40 0zM319.05 512.50a2.70 2.70 0 1 0 5.40 0a2.70 2.70 0 1 0 -5.40 0zM325.10 512.50a2.70 2.70 0 1 0 5.40 0a2.70 2.70 0 1 0 -5.40 0zM331.15 512.50a2.70 2.70 0 1 0 5.40 0a2.70 2.70 0 1 0 -5.40 0zM319.05 506.40a2.70 2.70 0 1 0 5.40 0a2.70 2.70 0 1 0 -5.40 0zM325.10 506.40a2.70 2.70 0 1 0 5.40 0a2.70 2.70 0 1 0 -5.40 0zM331.15 506.40a2.70 2.70 0 1 0 5.40 0a2.70 2.70 0 1 0 -5.40 0zM319.05 500.30a2.70 2.70 0 1 0 5.40 0a2.70 2.70 0 1 0 -5.40 0zM325.10 500.30a2.70 2.70 0 1 0 5.40 0a2.70 2.70 0 1 0 -5.40 0zM331.15 500.30a2.70 2.70 0 1 0 5.40 0a2.70 2.70 0 1 0 -5.40 0z" fill="#fff"/><path d="M323.97 588.75a0.8 0.8 0 1 0 1.6 0a0.8 0.8 0 1 0 -1.6 0zM330.02 588.75a0.8 0.8 0 1 0 1.6 0a0.8 0.8 0 1 0 -1.6 0zM336.07 588.75a0.8 0.8 0 1 0 1.6 0a0.8 0.8 0 1 0 -1.6 0zM323.97 582.65a0.8 0.8 0 1 0 1.6 0a0.8 0.8 0 1 0 -1.6 0zM330.02 582.65a0.8 0.8 0 1 0 1.6 0a0.8 0.8 0 1 0 -1.6 0zM336.07 582.65a0.8 0.8 0 1 0 1.6 0a0.8 0.8 0 1 0 -1.6 0zM323.97 576.55a0.8 0.8 0 1 0 1.6 0a0.8 0.8 0 1 0 -1.6 0zM330.02 576.55a0.8 0.8 0 1 0 1.6 0a0.8 0.8 0 1 0 -1.6 0zM336.07 576.55a0.8 0.8 0 1 0 1.6 0a0.8 0.8 0 1 0 -1.6 0zM323.97 570.45a0.8 0.8 0 1 0 1.6 0a0.8 0.8 0 1 0 -1.6 0zM330.02 570.45a0.8 0.8 0 1 0 1.6 0a0.8 0.8 0 1 0 -1.6 0zM336.07 570.45a0.8 0.8 0 1 0 1.6 0a0.8 0.8 0 1 0 -1.6 0zM323.97 564.35a0.8 0.8 0 1 0 1.6 0a0.8 0.8 0 1 0 -1.6 0zM330.02 564.35a0.8 0.8 0 1 0 1.6 0a0.8 0.8 0 1 0 -1.6 0zM336.07 564.35a0.8 0.8 0 1 0 1.6 0a0.8 0.8 0 1 0 -1.6 0zM323.97 558.25a0.8 0.8 0 1 0 1.6 0a0.8 0.8 0 1 0 -1.6 0zM330.02 558.25a0.8 0.8 0 1 0 1.6 0a0.8 0.8 0 1 0 -1.6 0zM336.07 558.25a0.8 0.8 0 1 0 1.6 0a0.8 0.8 0 1 0 -1.6 0zM323.97 552.15a0.8 0.8 0 1 0 1.6 0a0.8 0.8 0 1 0 -1.6 0zM330.02 552.15a0.8 0.8 0 1 0 1.6 0a0.8 0.8 0 1 0 -1.6 0zM336.07 552.15a0.8 0.8 0 1 0 1.6 0a0.8 0.8 0 1 0 -1.6 0zM323.97 546.05a0.8 0.8 0 1 0 1.6 0a0.8 0.8 0 1 0 -1.6 0zM330.02 546.05a0.8 0.8 0 1 0 1.6 0a0.8 0.8 0 1 0 -1.6 0zM336.07 546.05a0.8 0.8 0 1 0 1.6 0a0.8 0.8 0 1 0 -1.6 0zM323.97 539.95a0.8 0.8 0 1 0 1.6 0a0.8 0.8 0 1 0 -1.6 0zM330.02 539.95a0.8 0.8 0 1 0 1.6 0a0.8 0.8 0 1 0 -1.6 0zM336.07 539.95a0.8 0.8 0 1 0 1.6 0a0.8 0.8 0 1 0 -1.6 0zM323.97 533.85a0.8 0.8 0 1 0 1.6 0a0.8 0.8 0 1 0 -1.6 0zM330.02 533.85a0.8 0.8 0 1 0 1.6 0a0.8 0.8 0 1 0 -1.6 0zM336.07 533.85a0.8 0.8 0 1 0 1.6 0a0.8 0.8 0 1 0 -1.6 0zM323.97 527.75a0.8 0.8 0 1 0 1.6 0a0.8 0.8 0 1 0 -1.6 0zM330.02 527.75a0.8 0.8 0 1 0 1.6 0a0.8 0.8 0 1 0 -1.6 0zM336.07 527.75a0.8 0.8 0 1 0 1.6 0a0.8 0.8 0 1 0 -1.6 0zM323.97 521.65a0.8 0.8 0 1 0 1.6 0a0.8 0.8 0 1 0 -1.6 0zM330.02 521.65a0.8 0.8 0 1 0 1.6 0a0.8 0.8 0 1 0 -1.6 0zM336.07 521.65a0.8 0.8 0 1 0 1.6 0a0.8 0.8 0 1 0 -1.6 0zM323.97 515.55a0.8 0.8 0 1 0 1.6 0a0.8 0.8 0 1 0 -1.6 0zM330.02 515.55a0.8 0.8 0 1 0 1.6 0a0.8 0.8 0 1 0 -1.6 0zM336.07 515.55a0.8 0.8 0 1 0 1.6 0a0.8 0.8 0 1 0 -1.6 0zM323.97 509.45a0.8 0.8 0 1 0 1.6 0a0.8 0.8 0 1 0 -1.6 0zM330.02 509.45a0.8 0.8 0 1 0 1.6 0a0.8 0.8 0 1 0 -1.6 0zM336.07 509.45a0.8 0.8 0 1 0 1.6 0a0.8 0.8 0 1 0 -1.6 0zM323.97 503.35a0.8 0.8 0 1 0 1.6 0a0.8 0.8 0 1 0 -1.6 0zM330.02 503.35a0.8 0.8 0 1 0 1.6 0a0.8 0.8 0 1 0 -1.6 0zM336.07 503.35a0.8 0.8 0 1 0 1.6 0a0.8 0.8 0 1 0 -1.6 0zM323.97 497.25a0.8 0.8 0 1 0 1.6 0a0.8 0.8 0 1 0 -1.6 0zM330.02 497.25a0.8 0.8 0 1 0 1.6 0a0.8 0.8 0 1 0 -1.6 0zM336.07 497.25a0.8 0.8 0 1 0 1.6 0a0.8 0.8 0 1 0 -1.6 0z" fill="#dcdcdc"/></g>
<rect x="325.05" y="502.20" width="11.90" height="91.30" fill="none" stroke="#050505" stroke-width="0.80"/>
<rect x="312.65" y="496.90" width="12.70" height="96.60" fill="#050505"/>
<path d="M307.25 561.50 V572.30 M305.05 561.50 h4.40 M305.05 572.30 h4.40" stroke="#050505" stroke-width="1.20" fill="none"/>
<path d="M318.55 488.30 V496.90 M316.25 488.30 h4.60" stroke="#050505" stroke-width="1.30" fill="none"/>
<path d="M330.75 497.80 V506.20 M328.55 497.80 h4.40 M328.55 506.20 h4.40" stroke="#050505" stroke-width="1.20" fill="none"/>
<rect x="353.15" y="566.20" width="11.90" height="27.30" fill="#fff" stroke="#050505" stroke-width="1.2"/>
<clipPath id="cb5"><rect x="377.25" y="460.00" width="11.90" height="133.50"/></clipPath>
<g clip-path="url(#cb5)"><rect x="377.25" y="460.00" width="11.90" height="133.50" fill="#141414"/><path d="M371.25 591.80a2.70 2.70 0 1 0 5.40 0a2.70 2.70 0 1 0 -5.40 0zM377.30 591.80a2.70 2.70 0 1 0 5.40 0a2.70 2.70 0 1 0 -5.40 0zM383.35 591.80a2.70 2.70 0 1 0 5.40 0a2.70 2.70 0 1 0 -5.40 0zM371.25 585.70a2.70 2.70 0 1 0 5.40 0a2.70 2.70 0 1 0 -5.40 0zM377.30 585.70a2.70 2.70 0 1 0 5.40 0a2.70 2.70 0 1 0 -5.40 0zM383.35 585.70a2.70 2.70 0 1 0 5.40 0a2.70 2.70 0 1 0 -5.40 0zM371.25 579.60a2.70 2.70 0 1 0 5.40 0a2.70 2.70 0 1 0 -5.40 0zM377.30 579.60a2.70 2.70 0 1 0 5.40 0a2.70 2.70 0 1 0 -5.40 0zM383.35 579.60a2.70 2.70 0 1 0 5.40 0a2.70 2.70 0 1 0 -5.40 0zM371.25 573.50a2.70 2.70 0 1 0 5.40 0a2.70 2.70 0 1 0 -5.40 0zM377.30 573.50a2.70 2.70 0 1 0 5.40 0a2.70 2.70 0 1 0 -5.40 0zM383.35 573.50a2.70 2.70 0 1 0 5.40 0a2.70 2.70 0 1 0 -5.40 0zM371.25 567.40a2.70 2.70 0 1 0 5.40 0a2.70 2.70 0 1 0 -5.40 0zM377.30 567.40a2.70 2.70 0 1 0 5.40 0a2.70 2.70 0 1 0 -5.40 0zM383.35 567.40a2.70 2.70 0 1 0 5.40 0a2.70 2.70 0 1 0 -5.40 0zM371.25 561.30a2.70 2.70 0 1 0 5.40 0a2.70 2.70 0 1 0 -5.40 0zM377.30 561.30a2.70 2.70 0 1 0 5.40 0a2.70 2.70 0 1 0 -5.40 0zM383.35 561.30a2.70 2.70 0 1 0 5.40 0a2.70 2.70 0 1 0 -5.40 0zM371.25 555.20a2.70 2.70 0 1 0 5.40 0a2.70 2.70 0 1 0 -5.40 0zM377.30 555.20a2.70 2.70 0 1 0 5.40 0a2.70 2.70 0 1 0 -5.40 0zM383.35 555.20a2.70 2.70 0 1 0 5.40 0a2.70 2.70 0 1 0 -5.40 0zM371.25 549.10a2.70 2.70 0 1 0 5.40 0a2.70 2.70 0 1 0 -5.40 0zM377.30 549.10a2.70 2.70 0 1 0 5.40 0a2.70 2.70 0 1 0 -5.40 0zM383.35 549.10a2.70 2.70 0 1 0 5.40 0a2.70 2.70 0 1 0 -5.40 0zM371.25 543.00a2.70 2.70 0 1 0 5.40 0a2.70 2.70 0 1 0 -5.40 0zM377.30 543.00a2.70 2.70 0 1 0 5.40 0a2.70 2.70 0 1 0 -5.40 0zM383.35 543.00a2.70 2.70 0 1 0 5.40 0a2.70 2.70 0 1 0 -5.40 0zM371.25 536.90a2.70 2.70 0 1 0 5.40 0a2.70 2.70 0 1 0 -5.40 0zM377.30 536.90a2.70 2.70 0 1 0 5.40 0a2.70 2.70 0 1 0 -5.40 0zM383.35 536.90a2.70 2.70 0 1 0 5.40 0a2.70 2.70 0 1 0 -5.40 0zM371.25 530.80a2.70 2.70 0 1 0 5.40 0a2.70 2.70 0 1 0 -5.40 0zM377.30 530.80a2.70 2.70 0 1 0 5.40 0a2.70 2.70 0 1 0 -5.40 0zM383.35 530.80a2.70 2.70 0 1 0 5.40 0a2.70 2.70 0 1 0 -5.40 0zM371.25 524.70a2.70 2.70 0 1 0 5.40 0a2.70 2.70 0 1 0 -5.40 0zM377.30 524.70a2.70 2.70 0 1 0 5.40 0a2.70 2.70 0 1 0 -5.40 0zM383.35 524.70a2.70 2.70 0 1 0 5.40 0a2.70 2.70 0 1 0 -5.40 0zM371.25 518.60a2.70 2.70 0 1 0 5.40 0a2.70 2.70 0 1 0 -5.40 0zM377.30 518.60a2.70 2.70 0 1 0 5.40 0a2.70 2.70 0 1 0 -5.40 0zM383.35 518.60a2.70 2.70 0 1 0 5.40 0a2.70 2.70 0 1 0 -5.40 0zM371.25 512.50a2.70 2.70 0 1 0 5.40 0a2.70 2.70 0 1 0 -5.40 0zM377.30 512.50a2.70 2.70 0 1 0 5.40 0a2.70 2.70 0 1 0 -5.40 0zM383.35 512.50a2.70 2.70 0 1 0 5.40 0a2.70 2.70 0 1 0 -5.40 0zM371.25 506.40a2.70 2.70 0 1 0 5.40 0a2.70 2.70 0 1 0 -5.40 0zM377.30 506.40a2.70 2.70 0 1 0 5.40 0a2.70 2.70 0 1 0 -5.40 0zM383.35 506.40a2.70 2.70 0 1 0 5.40 0a2.70 2.70 0 1 0 -5.40 0zM371.25 500.30a2.70 2.70 0 1 0 5.40 0a2.70 2.70 0 1 0 -5.40 0zM377.30 500.30a2.70 2.70 0 1 0 5.40 0a2.70 2.70 0 1 0 -5.40 0zM383.35 500.30a2.70 2.70 0 1 0 5.40 0a2.70 2.70 0 1 0 -5.40 0zM371.25 494.20a2.70 2.70 0 1 0 5.40 0a2.70 2.70 0 1 0 -5.40 0zM377.30 494.20a2.70 2.70 0 1 0 5.40 0a2.70 2.70 0 1 0 -5.40 0zM383.35 494.20a2.70 2.70 0 1 0 5.40 0a2.70 2.70 0 1 0 -5.40 0zM371.25 488.10a2.70 2.70 0 1 0 5.40 0a2.70 2.70 0 1 0 -5.40 0zM377.30 488.10a2.70 2.70 0 1 0 5.40 0a2.70 2.70 0 1 0 -5.40 0zM383.35 488.10a2.70 2.70 0 1 0 5.40 0a2.70 2.70 0 1 0 -5.40 0zM371.25 482.00a2.70 2.70 0 1 0 5.40 0a2.70 2.70 0 1 0 -5.40 0zM377.30 482.00a2.70 2.70 0 1 0 5.40 0a2.70 2.70 0 1 0 -5.40 0zM383.35 482.00a2.70 2.70 0 1 0 5.40 0a2.70 2.70 0 1 0 -5.40 0zM371.25 475.90a2.70 2.70 0 1 0 5.40 0a2.70 2.70 0 1 0 -5.40 0zM377.30 475.90a2.70 2.70 0 1 0 5.40 0a2.70 2.70 0 1 0 -5.40 0zM383.35 475.90a2.70 2.70 0 1 0 5.40 0a2.70 2.70 0 1 0 -5.40 0zM371.25 469.80a2.70 2.70 0 1 0 5.40 0a2.70 2.70 0 1 0 -5.40 0zM377.30 469.80a2.70 2.70 0 1 0 5.40 0a2.70 2.70 0 1 0 -5.40 0zM383.35 469.80a2.70 2.70 0 1 0 5.40 0a2.70 2.70 0 1 0 -5.40 0zM371.25 463.70a2.70 2.70 0 1 0 5.40 0a2.70 2.70 0 1 0 -5.40 0zM377.30 463.70a2.70 2.70 0 1 0 5.40 0a2.70 2.70 0 1 0 -5.40 0zM383.35 463.70a2.70 2.70 0 1 0 5.40 0a2.70 2.70 0 1 0 -5.40 0zM371.25 457.60a2.70 2.70 0 1 0 5.40 0a2.70 2.70 0 1 0 -5.40 0zM377.30 457.60a2.70 2.70 0 1 0 5.40 0a2.70 2.70 0 1 0 -5.40 0zM383.35 457.60a2.70 2.70 0 1 0 5.40 0a2.70 2.70 0 1 0 -5.40 0z" fill="#fff"/><path d="M376.18 588.75a0.8 0.8 0 1 0 1.6 0a0.8 0.8 0 1 0 -1.6 0zM382.22 588.75a0.8 0.8 0 1 0 1.6 0a0.8 0.8 0 1 0 -1.6 0zM388.27 588.75a0.8 0.8 0 1 0 1.6 0a0.8 0.8 0 1 0 -1.6 0zM376.18 582.65a0.8 0.8 0 1 0 1.6 0a0.8 0.8 0 1 0 -1.6 0zM382.22 582.65a0.8 0.8 0 1 0 1.6 0a0.8 0.8 0 1 0 -1.6 0zM388.27 582.65a0.8 0.8 0 1 0 1.6 0a0.8 0.8 0 1 0 -1.6 0zM376.18 576.55a0.8 0.8 0 1 0 1.6 0a0.8 0.8 0 1 0 -1.6 0zM382.22 576.55a0.8 0.8 0 1 0 1.6 0a0.8 0.8 0 1 0 -1.6 0zM388.27 576.55a0.8 0.8 0 1 0 1.6 0a0.8 0.8 0 1 0 -1.6 0zM376.18 570.45a0.8 0.8 0 1 0 1.6 0a0.8 0.8 0 1 0 -1.6 0zM382.22 570.45a0.8 0.8 0 1 0 1.6 0a0.8 0.8 0 1 0 -1.6 0zM388.27 570.45a0.8 0.8 0 1 0 1.6 0a0.8 0.8 0 1 0 -1.6 0zM376.18 564.35a0.8 0.8 0 1 0 1.6 0a0.8 0.8 0 1 0 -1.6 0zM382.22 564.35a0.8 0.8 0 1 0 1.6 0a0.8 0.8 0 1 0 -1.6 0zM388.27 564.35a0.8 0.8 0 1 0 1.6 0a0.8 0.8 0 1 0 -1.6 0zM376.18 558.25a0.8 0.8 0 1 0 1.6 0a0.8 0.8 0 1 0 -1.6 0zM382.22 558.25a0.8 0.8 0 1 0 1.6 0a0.8 0.8 0 1 0 -1.6 0zM388.27 558.25a0.8 0.8 0 1 0 1.6 0a0.8 0.8 0 1 0 -1.6 0zM376.18 552.15a0.8 0.8 0 1 0 1.6 0a0.8 0.8 0 1 0 -1.6 0zM382.22 552.15a0.8 0.8 0 1 0 1.6 0a0.8 0.8 0 1 0 -1.6 0zM388.27 552.15a0.8 0.8 0 1 0 1.6 0a0.8 0.8 0 1 0 -1.6 0zM376.18 546.05a0.8 0.8 0 1 0 1.6 0a0.8 0.8 0 1 0 -1.6 0zM382.22 546.05a0.8 0.8 0 1 0 1.6 0a0.8 0.8 0 1 0 -1.6 0zM388.27 546.05a0.8 0.8 0 1 0 1.6 0a0.8 0.8 0 1 0 -1.6 0zM376.18 539.95a0.8 0.8 0 1 0 1.6 0a0.8 0.8 0 1 0 -1.6 0zM382.22 539.95a0.8 0.8 0 1 0 1.6 0a0.8 0.8 0 1 0 -1.6 0zM388.27 539.95a0.8 0.8 0 1 0 1.6 0a0.8 0.8 0 1 0 -1.6 0zM376.18 533.85a0.8 0.8 0 1 0 1.6 0a0.8 0.8 0 1 0 -1.6 0zM382.22 533.85a0.8 0.8 0 1 0 1.6 0a0.8 0.8 0 1 0 -1.6 0zM388.27 533.85a0.8 0.8 0 1 0 1.6 0a0.8 0.8 0 1 0 -1.6 0zM376.18 527.75a0.8 0.8 0 1 0 1.6 0a0.8 0.8 0 1 0 -1.6 0zM382.22 527.75a0.8 0.8 0 1 0 1.6 0a0.8 0.8 0 1 0 -1.6 0zM388.27 527.75a0.8 0.8 0 1 0 1.6 0a0.8 0.8 0 1 0 -1.6 0zM376.18 521.65a0.8 0.8 0 1 0 1.6 0a0.8 0.8 0 1 0 -1.6 0zM382.22 521.65a0.8 0.8 0 1 0 1.6 0a0.8 0.8 0 1 0 -1.6 0zM388.27 521.65a0.8 0.8 0 1 0 1.6 0a0.8 0.8 0 1 0 -1.6 0zM376.18 515.55a0.8 0.8 0 1 0 1.6 0a0.8 0.8 0 1 0 -1.6 0zM382.22 515.55a0.8 0.8 0 1 0 1.6 0a0.8 0.8 0 1 0 -1.6 0zM388.27 515.55a0.8 0.8 0 1 0 1.6 0a0.8 0.8 0 1 0 -1.6 0zM376.18 509.45a0.8 0.8 0 1 0 1.6 0a0.8 0.8 0 1 0 -1.6 0zM382.22 509.45a0.8 0.8 0 1 0 1.6 0a0.8 0.8 0 1 0 -1.6 0zM388.27 509.45a0.8 0.8 0 1 0 1.6 0a0.8 0.8 0 1 0 -1.6 0zM376.18 503.35a0.8 0.8 0 1 0 1.6 0a0.8 0.8 0 1 0 -1.6 0zM382.22 503.35a0.8 0.8 0 1 0 1.6 0a0.8 0.8 0 1 0 -1.6 0zM388.27 503.35a0.8 0.8 0 1 0 1.6 0a0.8 0.8 0 1 0 -1.6 0zM376.18 497.25a0.8 0.8 0 1 0 1.6 0a0.8 0.8 0 1 0 -1.6 0zM382.22 497.25a0.8 0.8 0 1 0 1.6 0a0.8 0.8 0 1 0 -1.6 0zM388.27 497.25a0.8 0.8 0 1 0 1.6 0a0.8 0.8 0 1 0 -1.6 0zM376.18 491.15a0.8 0.8 0 1 0 1.6 0a0.8 0.8 0 1 0 -1.6 0zM382.22 491.15a0.8 0.8 0 1 0 1.6 0a0.8 0.8 0 1 0 -1.6 0zM388.27 491.15a0.8 0.8 0 1 0 1.6 0a0.8 0.8 0 1 0 -1.6 0zM376.18 485.05a0.8 0.8 0 1 0 1.6 0a0.8 0.8 0 1 0 -1.6 0zM382.22 485.05a0.8 0.8 0 1 0 1.6 0a0.8 0.8 0 1 0 -1.6 0zM388.27 485.05a0.8 0.8 0 1 0 1.6 0a0.8 0.8 0 1 0 -1.6 0zM376.18 478.95a0.8 0.8 0 1 0 1.6 0a0.8 0.8 0 1 0 -1.6 0zM382.22 478.95a0.8 0.8 0 1 0 1.6 0a0.8 0.8 0 1 0 -1.6 0zM388.27 478.95a0.8 0.8 0 1 0 1.6 0a0.8 0.8 0 1 0 -1.6 0zM376.18 472.85a0.8 0.8 0 1 0 1.6 0a0.8 0.8 0 1 0 -1.6 0zM382.22 472.85a0.8 0.8 0 1 0 1.6 0a0.8 0.8 0 1 0 -1.6 0zM388.27 472.85a0.8 0.8 0 1 0 1.6 0a0.8 0.8 0 1 0 -1.6 0zM376.18 466.75a0.8 0.8 0 1 0 1.6 0a0.8 0.8 0 1 0 -1.6 0zM382.22 466.75a0.8 0.8 0 1 0 1.6 0a0.8 0.8 0 1 0 -1.6 0zM388.27 466.75a0.8 0.8 0 1 0 1.6 0a0.8 0.8 0 1 0 -1.6 0zM376.18 460.65a0.8 0.8 0 1 0 1.6 0a0.8 0.8 0 1 0 -1.6 0zM382.22 460.65a0.8 0.8 0 1 0 1.6 0a0.8 0.8 0 1 0 -1.6 0zM388.27 460.65a0.8 0.8 0 1 0 1.6 0a0.8 0.8 0 1 0 -1.6 0zM376.18 454.55a0.8 0.8 0 1 0 1.6 0a0.8 0.8 0 1 0 -1.6 0zM382.22 454.55a0.8 0.8 0 1 0 1.6 0a0.8 0.8 0 1 0 -1.6 0zM388.27 454.55a0.8 0.8 0 1 0 1.6 0a0.8 0.8 0 1 0 -1.6 0z" fill="#dcdcdc"/></g>
<rect x="377.25" y="460.00" width="11.90" height="133.50" fill="none" stroke="#050505" stroke-width="0.80"/>
<rect x="364.85" y="450.80" width="12.70" height="142.70" fill="#050505"/>
<path d="M359.45 560.60 V570.80 M357.25 560.60 h4.40 M357.25 570.80 h4.40" stroke="#050505" stroke-width="1.20" fill="none"/>
<path d="M370.75 436.90 V450.80 M368.45 436.90 h4.60" stroke="#050505" stroke-width="1.30" fill="none"/>
<path d="M382.95 448.60 V469.20 M380.75 448.60 h4.40 M380.75 469.20 h4.40" stroke="#050505" stroke-width="1.20" fill="none"/>
<rect x="405.35" y="567.00" width="11.90" height="26.50" fill="#fff" stroke="#050505" stroke-width="1.2"/>
<clipPath id="cb6"><rect x="429.45" y="530.20" width="11.90" height="63.30"/></clipPath>
<g clip-path="url(#cb6)"><rect x="429.45" y="530.20" width="11.90" height="63.30" fill="#141414"/><path d="M423.45 591.80a2.70 2.70 0 1 0 5.40 0a2.70 2.70 0 1 0 -5.40 0zM429.50 591.80a2.70 2.70 0 1 0 5.40 0a2.70 2.70 0 1 0 -5.40 0zM435.55 591.80a2.70 2.70 0 1 0 5.40 0a2.70 2.70 0 1 0 -5.40 0zM423.45 585.70a2.70 2.70 0 1 0 5.40 0a2.70 2.70 0 1 0 -5.40 0zM429.50 585.70a2.70 2.70 0 1 0 5.40 0a2.70 2.70 0 1 0 -5.40 0zM435.55 585.70a2.70 2.70 0 1 0 5.40 0a2.70 2.70 0 1 0 -5.40 0zM423.45 579.60a2.70 2.70 0 1 0 5.40 0a2.70 2.70 0 1 0 -5.40 0zM429.50 579.60a2.70 2.70 0 1 0 5.40 0a2.70 2.70 0 1 0 -5.40 0zM435.55 579.60a2.70 2.70 0 1 0 5.40 0a2.70 2.70 0 1 0 -5.40 0zM423.45 573.50a2.70 2.70 0 1 0 5.40 0a2.70 2.70 0 1 0 -5.40 0zM429.50 573.50a2.70 2.70 0 1 0 5.40 0a2.70 2.70 0 1 0 -5.40 0zM435.55 573.50a2.70 2.70 0 1 0 5.40 0a2.70 2.70 0 1 0 -5.40 0zM423.45 567.40a2.70 2.70 0 1 0 5.40 0a2.70 2.70 0 1 0 -5.40 0zM429.50 567.40a2.70 2.70 0 1 0 5.40 0a2.70 2.70 0 1 0 -5.40 0zM435.55 567.40a2.70 2.70 0 1 0 5.40 0a2.70 2.70 0 1 0 -5.40 0zM423.45 561.30a2.70 2.70 0 1 0 5.40 0a2.70 2.70 0 1 0 -5.40 0zM429.50 561.30a2.70 2.70 0 1 0 5.40 0a2.70 2.70 0 1 0 -5.40 0zM435.55 561.30a2.70 2.70 0 1 0 5.40 0a2.70 2.70 0 1 0 -5.40 0zM423.45 555.20a2.70 2.70 0 1 0 5.40 0a2.70 2.70 0 1 0 -5.40 0zM429.50 555.20a2.70 2.70 0 1 0 5.40 0a2.70 2.70 0 1 0 -5.40 0zM435.55 555.20a2.70 2.70 0 1 0 5.40 0a2.70 2.70 0 1 0 -5.40 0zM423.45 549.10a2.70 2.70 0 1 0 5.40 0a2.70 2.70 0 1 0 -5.40 0zM429.50 549.10a2.70 2.70 0 1 0 5.40 0a2.70 2.70 0 1 0 -5.40 0zM435.55 549.10a2.70 2.70 0 1 0 5.40 0a2.70 2.70 0 1 0 -5.40 0zM423.45 543.00a2.70 2.70 0 1 0 5.40 0a2.70 2.70 0 1 0 -5.40 0zM429.50 543.00a2.70 2.70 0 1 0 5.40 0a2.70 2.70 0 1 0 -5.40 0zM435.55 543.00a2.70 2.70 0 1 0 5.40 0a2.70 2.70 0 1 0 -5.40 0zM423.45 536.90a2.70 2.70 0 1 0 5.40 0a2.70 2.70 0 1 0 -5.40 0zM429.50 536.90a2.70 2.70 0 1 0 5.40 0a2.70 2.70 0 1 0 -5.40 0zM435.55 536.90a2.70 2.70 0 1 0 5.40 0a2.70 2.70 0 1 0 -5.40 0zM423.45 530.80a2.70 2.70 0 1 0 5.40 0a2.70 2.70 0 1 0 -5.40 0zM429.50 530.80a2.70 2.70 0 1 0 5.40 0a2.70 2.70 0 1 0 -5.40 0zM435.55 530.80a2.70 2.70 0 1 0 5.40 0a2.70 2.70 0 1 0 -5.40 0z" fill="#fff"/><path d="M428.38 588.75a0.8 0.8 0 1 0 1.6 0a0.8 0.8 0 1 0 -1.6 0zM434.43 588.75a0.8 0.8 0 1 0 1.6 0a0.8 0.8 0 1 0 -1.6 0zM440.48 588.75a0.8 0.8 0 1 0 1.6 0a0.8 0.8 0 1 0 -1.6 0zM428.38 582.65a0.8 0.8 0 1 0 1.6 0a0.8 0.8 0 1 0 -1.6 0zM434.43 582.65a0.8 0.8 0 1 0 1.6 0a0.8 0.8 0 1 0 -1.6 0zM440.48 582.65a0.8 0.8 0 1 0 1.6 0a0.8 0.8 0 1 0 -1.6 0zM428.38 576.55a0.8 0.8 0 1 0 1.6 0a0.8 0.8 0 1 0 -1.6 0zM434.43 576.55a0.8 0.8 0 1 0 1.6 0a0.8 0.8 0 1 0 -1.6 0zM440.48 576.55a0.8 0.8 0 1 0 1.6 0a0.8 0.8 0 1 0 -1.6 0zM428.38 570.45a0.8 0.8 0 1 0 1.6 0a0.8 0.8 0 1 0 -1.6 0zM434.43 570.45a0.8 0.8 0 1 0 1.6 0a0.8 0.8 0 1 0 -1.6 0zM440.48 570.45a0.8 0.8 0 1 0 1.6 0a0.8 0.8 0 1 0 -1.6 0zM428.38 564.35a0.8 0.8 0 1 0 1.6 0a0.8 0.8 0 1 0 -1.6 0zM434.43 564.35a0.8 0.8 0 1 0 1.6 0a0.8 0.8 0 1 0 -1.6 0zM440.48 564.35a0.8 0.8 0 1 0 1.6 0a0.8 0.8 0 1 0 -1.6 0zM428.38 558.25a0.8 0.8 0 1 0 1.6 0a0.8 0.8 0 1 0 -1.6 0zM434.43 558.25a0.8 0.8 0 1 0 1.6 0a0.8 0.8 0 1 0 -1.6 0zM440.48 558.25a0.8 0.8 0 1 0 1.6 0a0.8 0.8 0 1 0 -1.6 0zM428.38 552.15a0.8 0.8 0 1 0 1.6 0a0.8 0.8 0 1 0 -1.6 0zM434.43 552.15a0.8 0.8 0 1 0 1.6 0a0.8 0.8 0 1 0 -1.6 0zM440.48 552.15a0.8 0.8 0 1 0 1.6 0a0.8 0.8 0 1 0 -1.6 0zM428.38 546.05a0.8 0.8 0 1 0 1.6 0a0.8 0.8 0 1 0 -1.6 0zM434.43 546.05a0.8 0.8 0 1 0 1.6 0a0.8 0.8 0 1 0 -1.6 0zM440.48 546.05a0.8 0.8 0 1 0 1.6 0a0.8 0.8 0 1 0 -1.6 0zM428.38 539.95a0.8 0.8 0 1 0 1.6 0a0.8 0.8 0 1 0 -1.6 0zM434.43 539.95a0.8 0.8 0 1 0 1.6 0a0.8 0.8 0 1 0 -1.6 0zM440.48 539.95a0.8 0.8 0 1 0 1.6 0a0.8 0.8 0 1 0 -1.6 0zM428.38 533.85a0.8 0.8 0 1 0 1.6 0a0.8 0.8 0 1 0 -1.6 0zM434.43 533.85a0.8 0.8 0 1 0 1.6 0a0.8 0.8 0 1 0 -1.6 0zM440.48 533.85a0.8 0.8 0 1 0 1.6 0a0.8 0.8 0 1 0 -1.6 0zM428.38 527.75a0.8 0.8 0 1 0 1.6 0a0.8 0.8 0 1 0 -1.6 0zM434.43 527.75a0.8 0.8 0 1 0 1.6 0a0.8 0.8 0 1 0 -1.6 0zM440.48 527.75a0.8 0.8 0 1 0 1.6 0a0.8 0.8 0 1 0 -1.6 0z" fill="#dcdcdc"/></g>
<rect x="429.45" y="530.20" width="11.90" height="63.30" fill="none" stroke="#050505" stroke-width="0.80"/>
<rect x="417.05" y="530.20" width="12.70" height="63.30" fill="#050505"/>
<path d="M411.65 562.20 V571.40 M409.45 562.20 h4.40 M409.45 571.40 h4.40" stroke="#050505" stroke-width="1.20" fill="none"/>
<path d="M422.95 523.70 V530.20 M420.65 523.70 h4.60" stroke="#050505" stroke-width="1.30" fill="none"/>
<path d="M435.15 525.20 V534.80 M432.95 525.20 h4.40 M432.95 534.80 h4.40" stroke="#050505" stroke-width="1.20" fill="none"/>
<clipPath id="hbF"><rect x="493.40" y="361.30" width="11.10" height="232.20"/></clipPath>
<rect x="493.40" y="361.30" width="11.10" height="232.20" fill="#fff"/>
<g clip-path="url(#hbF)"><path d="M492.90 361.80l12.10 -12.10M492.90 364.30l12.10 -12.10M492.90 366.80l12.10 -12.10M492.90 369.30l12.10 -12.10M492.90 371.80l12.10 -12.10M492.90 374.30l12.10 -12.10M492.90 376.80l12.10 -12.10M492.90 379.30l12.10 -12.10M492.90 381.80l12.10 -12.10M492.90 384.30l12.10 -12.10M492.90 386.80l12.10 -12.10M492.90 389.30l12.10 -12.10M492.90 391.80l12.10 -12.10M492.90 394.30l12.10 -12.10M492.90 396.80l12.10 -12.10M492.90 399.30l12.10 -12.10M492.90 401.80l12.10 -12.10M492.90 404.30l12.10 -12.10M492.90 406.80l12.10 -12.10M492.90 409.30l12.10 -12.10M492.90 411.80l12.10 -12.10M492.90 414.30l12.10 -12.10M492.90 416.80l12.10 -12.10M492.90 419.30l12.10 -12.10M492.90 421.80l12.10 -12.10M492.90 424.30l12.10 -12.10M492.90 426.80l12.10 -12.10M492.90 429.30l12.10 -12.10M492.90 431.80l12.10 -12.10M492.90 434.30l12.10 -12.10M492.90 436.80l12.10 -12.10M492.90 439.30l12.10 -12.10M492.90 441.80l12.10 -12.10M492.90 444.30l12.10 -12.10M492.90 446.80l12.10 -12.10M492.90 449.30l12.10 -12.10M492.90 451.80l12.10 -12.10M492.90 454.30l12.10 -12.10M492.90 456.80l12.10 -12.10M492.90 459.30l12.10 -12.10M492.90 461.80l12.10 -12.10M492.90 464.30l12.10 -12.10M492.90 466.80l12.10 -12.10M492.90 469.30l12.10 -12.10M492.90 471.80l12.10 -12.10M492.90 474.30l12.10 -12.10M492.90 476.80l12.10 -12.10M492.90 479.30l12.10 -12.10M492.90 481.80l12.10 -12.10M492.90 484.30l12.10 -12.10M492.90 486.80l12.10 -12.10M492.90 489.30l12.10 -12.10M492.90 491.80l12.10 -12.10M492.90 494.30l12.10 -12.10M492.90 496.80l12.10 -12.10M492.90 499.30l12.10 -12.10M492.90 501.80l12.10 -12.10M492.90 504.30l12.10 -12.10M492.90 506.80l12.10 -12.10M492.90 509.30l12.10 -12.10M492.90 511.80l12.10 -12.10M492.90 514.30l12.10 -12.10M492.90 516.80l12.10 -12.10M492.90 519.30l12.10 -12.10M492.90 521.80l12.10 -12.10M492.90 524.30l12.10 -12.10M492.90 526.80l12.10 -12.10M492.90 529.30l12.10 -12.10M492.90 531.80l12.10 -12.10M492.90 534.30l12.10 -12.10M492.90 536.80l12.10 -12.10M492.90 539.30l12.10 -12.10M492.90 541.80l12.10 -12.10M492.90 544.30l12.10 -12.10M492.90 546.80l12.10 -12.10M492.90 549.30l12.10 -12.10M492.90 551.80l12.10 -12.10M492.90 554.30l12.10 -12.10M492.90 556.80l12.10 -12.10M492.90 559.30l12.10 -12.10M492.90 561.80l12.10 -12.10M492.90 564.30l12.10 -12.10M492.90 566.80l12.10 -12.10M492.90 569.30l12.10 -12.10M492.90 571.80l12.10 -12.10M492.90 574.30l12.10 -12.10M492.90 576.80l12.10 -12.10M492.90 579.30l12.10 -12.10M492.90 581.80l12.10 -12.10M492.90 584.30l12.10 -12.10M492.90 586.80l12.10 -12.10M492.90 589.30l12.10 -12.10M492.90 591.80l12.10 -12.10M492.90 594.30l12.10 -12.10M492.90 596.80l12.10 -12.10M492.90 599.30l12.10 -12.10M492.90 601.80l12.10 -12.10M492.90 604.30l12.10 -12.10M492.90 606.80l12.10 -12.10" stroke="#141414" stroke-width="1.00" fill="none"/></g>
<rect x="493.40" y="361.30" width="11.10" height="232.20" fill="none" stroke="#050505" stroke-width="1.40"/>
<path d="M498.40 335.80 V386.40 M496.10 335.80 h4.60 M496.10 386.40 h4.60" stroke="#050505" stroke-width="1.30" fill="none"/>
<rect x="112.2" y="335.6" width="17" height="16.6" fill="#fff" stroke="#050505" stroke-width="1.3"/>
<rect x="111.6" y="359.6" width="18.2" height="17.6" fill="#050505"/>
<clipPath id="cbL"><rect x="112.10" y="383.00" width="17.80" height="17.60"/></clipPath>
<g clip-path="url(#cbL)"><rect x="112.10" y="383.00" width="17.80" height="17.60" fill="#141414"/><path d="M106.70 398.60a2.40 2.40 0 1 0 4.80 0a2.40 2.40 0 1 0 -4.80 0zM112.60 398.60a2.40 2.40 0 1 0 4.80 0a2.40 2.40 0 1 0 -4.80 0zM118.50 398.60a2.40 2.40 0 1 0 4.80 0a2.40 2.40 0 1 0 -4.80 0zM124.40 398.60a2.40 2.40 0 1 0 4.80 0a2.40 2.40 0 1 0 -4.80 0zM106.70 392.60a2.40 2.40 0 1 0 4.80 0a2.40 2.40 0 1 0 -4.80 0zM112.60 392.60a2.40 2.40 0 1 0 4.80 0a2.40 2.40 0 1 0 -4.80 0zM118.50 392.60a2.40 2.40 0 1 0 4.80 0a2.40 2.40 0 1 0 -4.80 0zM124.40 392.60a2.40 2.40 0 1 0 4.80 0a2.40 2.40 0 1 0 -4.80 0zM106.70 386.60a2.40 2.40 0 1 0 4.80 0a2.40 2.40 0 1 0 -4.80 0zM112.60 386.60a2.40 2.40 0 1 0 4.80 0a2.40 2.40 0 1 0 -4.80 0zM118.50 386.60a2.40 2.40 0 1 0 4.80 0a2.40 2.40 0 1 0 -4.80 0zM124.40 386.60a2.40 2.40 0 1 0 4.80 0a2.40 2.40 0 1 0 -4.80 0zM106.70 380.60a2.40 2.40 0 1 0 4.80 0a2.40 2.40 0 1 0 -4.80 0zM112.60 380.60a2.40 2.40 0 1 0 4.80 0a2.40 2.40 0 1 0 -4.80 0zM118.50 380.60a2.40 2.40 0 1 0 4.80 0a2.40 2.40 0 1 0 -4.80 0zM124.40 380.60a2.40 2.40 0 1 0 4.80 0a2.40 2.40 0 1 0 -4.80 0z" fill="#fff"/><path d="M111.25 395.60a0.8 0.8 0 1 0 1.6 0a0.8 0.8 0 1 0 -1.6 0zM117.15 395.60a0.8 0.8 0 1 0 1.6 0a0.8 0.8 0 1 0 -1.6 0zM123.05 395.60a0.8 0.8 0 1 0 1.6 0a0.8 0.8 0 1 0 -1.6 0zM128.95 395.60a0.8 0.8 0 1 0 1.6 0a0.8 0.8 0 1 0 -1.6 0zM111.25 389.60a0.8 0.8 0 1 0 1.6 0a0.8 0.8 0 1 0 -1.6 0zM117.15 389.60a0.8 0.8 0 1 0 1.6 0a0.8 0.8 0 1 0 -1.6 0zM123.05 389.60a0.8 0.8 0 1 0 1.6 0a0.8 0.8 0 1 0 -1.6 0zM128.95 389.60a0.8 0.8 0 1 0 1.6 0a0.8 0.8 0 1 0 -1.6 0zM111.25 383.60a0.8 0.8 0 1 0 1.6 0a0.8 0.8 0 1 0 -1.6 0zM117.15 383.60a0.8 0.8 0 1 0 1.6 0a0.8 0.8 0 1 0 -1.6 0zM123.05 383.60a0.8 0.8 0 1 0 1.6 0a0.8 0.8 0 1 0 -1.6 0zM128.95 383.60a0.8 0.8 0 1 0 1.6 0a0.8 0.8 0 1 0 -1.6 0zM111.25 377.60a0.8 0.8 0 1 0 1.6 0a0.8 0.8 0 1 0 -1.6 0zM117.15 377.60a0.8 0.8 0 1 0 1.6 0a0.8 0.8 0 1 0 -1.6 0zM123.05 377.60a0.8 0.8 0 1 0 1.6 0a0.8 0.8 0 1 0 -1.6 0zM128.95 377.60a0.8 0.8 0 1 0 1.6 0a0.8 0.8 0 1 0 -1.6 0z" fill="#dcdcdc"/></g>
<rect x="112.10" y="383.00" width="17.80" height="17.60" fill="none" stroke="#050505" stroke-width="0.50"/>
<clipPath id="hbL"><rect x="112.10" y="407.00" width="17.80" height="17.60"/></clipPath>
<rect x="112.10" y="407.00" width="17.80" height="17.60" fill="#fff"/>
<g clip-path="url(#hbL)"><path d="M111.60 407.50l18.80 -18.80M111.60 410.03l18.80 -18.80M111.60 412.56l18.80 -18.80M111.60 415.09l18.80 -18.80M111.60 417.62l18.80 -18.80M111.60 420.15l18.80 -18.80M111.60 422.68l18.80 -18.80M111.60 425.21l18.80 -18.80M111.60 427.74l18.80 -18.80M111.60 430.27l18.80 -18.80M111.60 432.80l18.80 -18.80M111.60 435.33l18.80 -18.80M111.60 437.86l18.80 -18.80M111.60 440.39l18.80 -18.80M111.60 442.92l18.80 -18.80" stroke="#141414" stroke-width="1.00" fill="none"/></g>
<rect x="112.10" y="407.00" width="17.80" height="17.60" fill="none" stroke="#050505" stroke-width="0.40"/>
<g stroke="#050505" stroke-width="0.50" stroke-linejoin="round">
<text transform="translate(143.00 351.50) scale(1.030 1)" font-size="18.40" text-anchor="start" >Mo/EDN</text>
<text transform="translate(143.00 375.50) scale(1.055 1)" font-size="18.40" text-anchor="start" >Mo-iDCs/EDN</text>
<text transform="translate(143.00 399.50) scale(1.055 1)" font-size="18.40" text-anchor="start" >Mo-mDCs/EDN</text>
<text transform="translate(143.00 423.50) scale(1.030 1)" font-size="18.40" text-anchor="start" >Mo/fMLP</text>
<text transform="translate(119.60 647.20) scale(1.000 1)" font-size="20.70" text-anchor="start" >EDN, SDF-1</text>
<text transform="translate(259.60 647.20) scale(1.014 1)" font-size="20.70" text-anchor="start" >(ng/mL), or fMLP (M)</text>
</g>
<text transform="translate(234.0 647.4) scale(1.1 1)" font-family="'Liberation Serif', serif" font-size="23" font-weight="normal">α</text>
</g>
</svg>
</body></html>
